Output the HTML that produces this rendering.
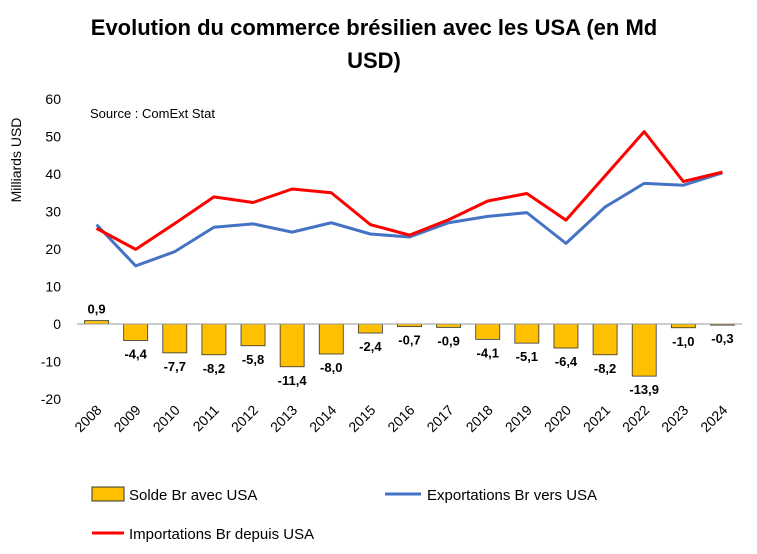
<!DOCTYPE html>
<html><head><meta charset="utf-8"><style>
body{margin:0;background:#fff;width:757px;height:549px;overflow:hidden;font-family:"Liberation Sans",sans-serif}
</style></head><body>
<svg id="chart" width="757" height="549" xmlns="http://www.w3.org/2000/svg" font-family="Liberation Sans, sans-serif">
<text x="374" y="35" text-anchor="middle" font-size="22" font-weight="bold">Evolution du commerce brésilien avec les USA (en Md</text>
<text x="374" y="68" text-anchor="middle" font-size="22" font-weight="bold">USD)</text>
<text transform="translate(21,160) rotate(-90)" text-anchor="middle" font-size="14">Milliards USD</text>
<text x="90" y="118" font-size="13">Source : ComExt Stat</text>
<g id="g"></g>
<g>
<rect x="92" y="487" width="32" height="14" fill="#FFC000" stroke="#333" stroke-width="1"/>
<text x="129" y="500" font-size="15">Solde Br avec USA</text>
<line x1="385" y1="494" x2="421" y2="494" stroke="#4472C4" stroke-width="3"/>
<text x="427" y="500" font-size="15">Exportations Br vers USA</text>
<line x1="92" y1="533" x2="124" y2="533" stroke="#FF0000" stroke-width="3"/>
<text x="129" y="539" font-size="15">Importations Br depuis USA</text>
</g>
</svg>
<script>
const years=["2008","2009","2010","2011","2012","2013","2014","2015","2016","2017","2018","2019","2020","2021","2022","2023","2024"];
const exportsBr=[26.5,15.5,19.3,25.8,26.7,24.5,27,24,23.2,27,28.7,29.7,21.5,31.2,37.5,37,40.3];
const importsBr=[25.5,19.9,26.8,33.9,32.4,36,35,26.5,23.7,27.8,32.8,34.8,27.7,39.5,51.3,38,40.5];
const solde=[0.9,-4.4,-7.7,-8.2,-5.8,-11.4,-8.0,-2.4,-0.7,-0.9,-4.1,-5.1,-6.4,-8.2,-13.9,-1.0,-0.3];
const yTicks=[60,50,40,30,20,10,0,-10,-20];
const NS="http://www.w3.org/2000/svg";
const g=document.getElementById('g');
const x0=77,x1=742,yTop=99,yBot=399,yMax=60,yMin=-20;
const step=(x1-x0)/years.length;
const X=i=>x0+step*(i+0.5);
const Y=v=>yTop+(yMax-v)*(yBot-yTop)/(yMax-yMin);
function mk(t,a){const e=document.createElementNS(NS,t);for(const k in a)e.setAttribute(k,a[k]);g.appendChild(e);return e;}
yTicks.forEach(v=>{const t=mk('text',{x:61,y:Y(v)+5,'text-anchor':'end','font-size':14});t.textContent=v;

});
solde.forEach((v,i)=>{const w=24;const r=mk('rect',{x:X(i)-w/2,y:Math.min(Y(v),Y(0)),width:w,height:Math.abs(Y(v)-Y(0)),fill:'#FFC000',stroke:'#333','stroke-width':0.8});


const lbl=v.toFixed(1).replace('.',',');
const t=mk('text',{x:X(i),y:v>=0?Y(v)-7:Y(v)+18,'text-anchor':'middle','font-size':13,'font-weight':'bold'});t.textContent=lbl;

});
const ax=mk('line',{x1:x0,y1:Y(0),x2:x1,y2:Y(0),stroke:'#999','stroke-width':1});


years.forEach((y,i)=>{const t=mk('text',{transform:`translate(${X(i)+6},${yBot+12}) rotate(-45)`,'text-anchor':'end','font-size':14});t.textContent=y;

});
function line(arr,col,name){const p=mk('polyline',{points:arr.map((v,i)=>X(i)+','+Y(v)).join(' '),fill:'none',stroke:col,'stroke-width':3,'stroke-linejoin':'round'});

}
line(exportsBr,'#4472C4','exports-line');
line(importsBr,'#FF0000','imports-line');
</script>
</body></html>
